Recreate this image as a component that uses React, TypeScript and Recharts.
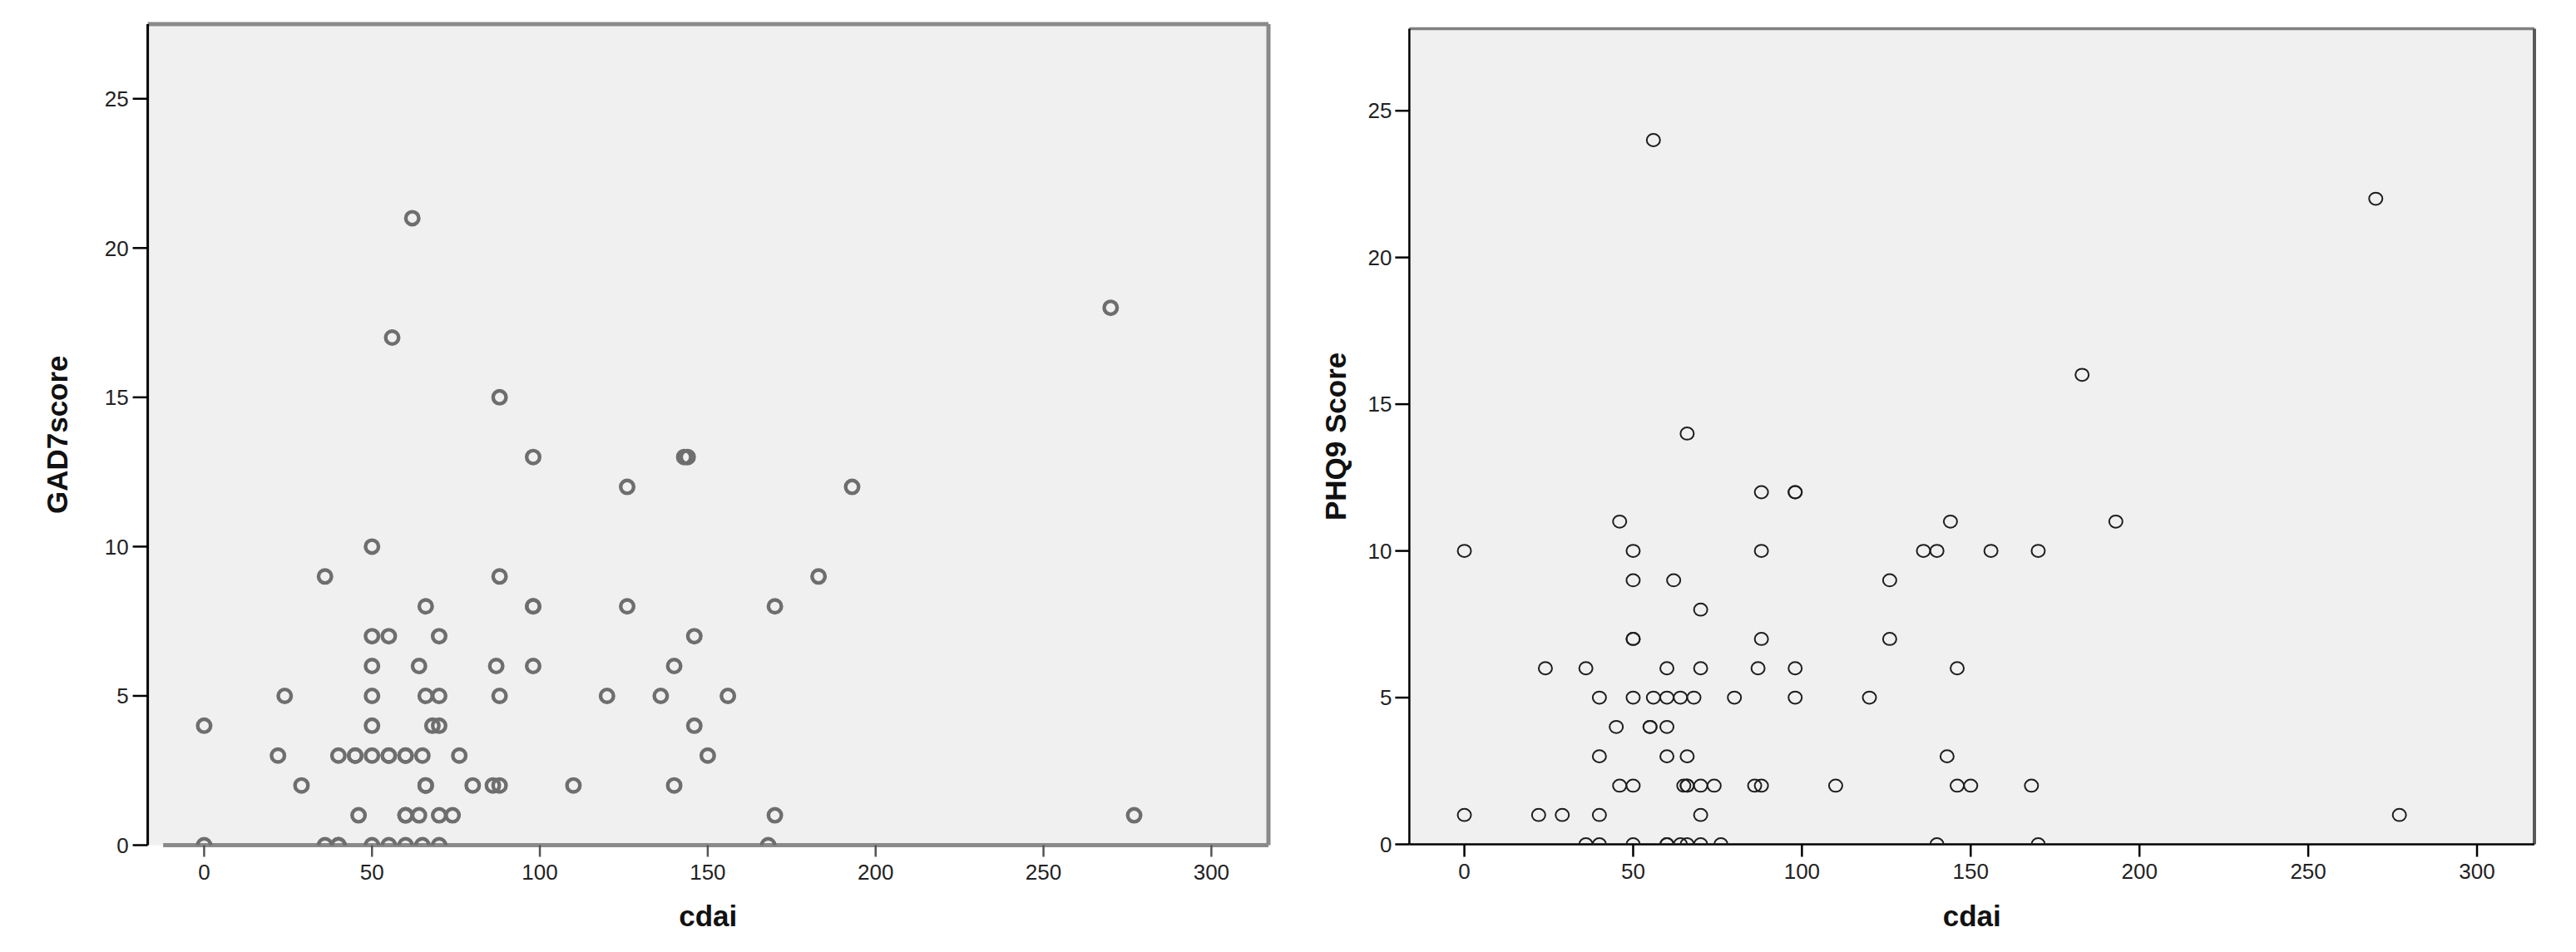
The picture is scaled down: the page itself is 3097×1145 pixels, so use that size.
import * as React from "react";
import {
  ScatterChart,
  Scatter,
  XAxis,
  YAxis,
  CartesianGrid,
  ReferenceLine,
} from "recharts";

// GAD7 panel (left)
const gadCdai = [
  0, 0, 22, 24, 29, 36, 36, 40, 40, 40, 45, 45, 46, 50, 50, 50, 50, 50, 50, 50,
  55, 55, 55, 55, 56, 60, 60, 60, 60, 60, 62, 64, 64, 65, 65, 66, 66, 66, 66, 68,
  70, 70, 70, 70, 70, 74, 76, 80, 88, 88, 87, 88, 86, 88, 98, 98, 98, 98, 110, 120,
  126, 126, 136, 140, 140, 143, 144, 146, 146, 150, 156, 168, 170, 170, 183, 193,
  270, 277,
];
const gadScore = [
  4, 0, 3, 5, 2, 9, 0, 3, 0, 0, 3, 3, 1, 10, 7, 6, 5, 4, 3, 0,
  7, 3, 3, 0, 17, 3, 3, 1, 1, 0, 21, 6, 1, 3, 0, 8, 5, 2, 2, 4,
  7, 5, 4, 1, 0, 1, 3, 2, 15, 9, 6, 5, 2, 2, 13, 8, 8, 6, 2, 5,
  12, 8, 5, 6, 2, 13, 13, 7, 4, 3, 5, 0, 8, 1, 9, 12,
  18, 1,
];

// PHQ9 panel (right)
const phqCdai = [
  0, 0, 22, 24, 29, 36, 36, 40, 40, 40, 40, 45, 46, 46, 50, 50, 50, 50, 50, 50,
  50, 55, 55, 56, 56, 60, 60, 60, 60, 60, 60, 62, 64, 64, 65, 66, 66, 66, 66, 66,
  68, 70, 70, 70, 70, 70, 74, 76, 80, 86, 87, 88, 88, 88, 88, 98, 98, 98, 98, 110,
  120, 126, 126, 136, 140, 140, 143, 144, 146, 146, 150, 156, 168, 170, 170, 183,
  193, 270, 277,
];
const phqScore = [
  10, 1, 1, 6, 1, 6, 0, 5, 3, 1, 0, 4, 11, 2, 10, 9, 7, 7, 5, 2,
  0, 4, 4, 24, 5, 6, 5, 4, 3, 0, 0, 9, 5, 0, 2, 14, 3, 2, 2, 0,
  5, 8, 6, 2, 1, 0, 2, 0, 5, 2, 6, 12, 10, 7, 2, 12, 12, 6, 5, 2,
  5, 9, 7, 10, 10, 0, 3, 11, 6, 2, 2, 10, 2, 10, 0, 16,
  11, 22, 1,
];

const xTicks = [0, 50, 100, 150, 200, 250, 300];
const yTicks = [0, 5, 10, 15, 20, 25];

const gadData = gadCdai.map((x, i) => ({ cdai: x, score: gadScore[i] }));
const phqData = phqCdai.map((x, i) => ({ cdai: x, score: phqScore[i] }));

const FONT = '"Liberation Sans", Arial, sans-serif';
const tickStyle = { fill: "#222", fontSize: 26, fontFamily: FONT };
const titleStyle = { fill: "#111", fontSize: 35, fontWeight: 700, fontFamily: FONT };

const GreyRing = (props: any) => (
  <circle cx={props.cx} cy={props.cy} r={7.8} fill="none" stroke="#6e6e6e" strokeWidth={4.4} />
);

const BlackRing = (props: any) => (
  <ellipse cx={props.cx} cy={props.cy} rx={8} ry={7.4} fill="none" stroke="#1e1e1e" strokeWidth={2} />
);

function GadChart() {
  return (
    <ScatterChart width={1560} height={1145} margin={{ top: 29, right: 35, bottom: 0, left: 0 }}>
      <CartesianGrid horizontal={false} vertical={false} fill="#f0f0f0" stroke="none" />
      <XAxis
        type="number"
        dataKey="cdai"
        domain={[-16.8, 317]}
        ticks={xTicks}
        allowDataOverflow
        height={128.5}
        tickSize={14}
        tickMargin={9}
        axisLine={false}
        tickLine={{ stroke: "#555", strokeWidth: 2.5 }}
        tick={tickStyle}
        label={{ value: "cdai", position: "insideBottom", offset: 31, style: titleStyle }}
      />
      <YAxis
        type="number"
        dataKey="score"
        domain={[0, 27.5]}
        ticks={yTicks}
        allowDataOverflow
        width={177.6}
        tickSize={18}
        tickMargin={5}
        axisLine={{ stroke: "#000", strokeWidth: 3 }}
        tickLine={{ stroke: "#000", strokeWidth: 2.5 }}
        tick={tickStyle}
        label={{
          value: "GAD7score",
          angle: -90,
          position: "insideLeft",
          offset: 69,
          style: { ...titleStyle, textAnchor: "middle" },
        }}
      />
      <ReferenceLine y={27.5} stroke="#8a8a8a" strokeWidth={5} />
      <ReferenceLine x={317} stroke="#8a8a8a" strokeWidth={5} />
      <ReferenceLine
        segment={[
          { x: -12.2, y: 0 },
          { x: 317, y: 0 },
        ]}
        stroke="#8a8a8a"
        strokeWidth={5}
      />
      <Scatter data={gadData} shape={GreyRing} isAnimationActive={false} />
    </ScatterChart>
  );
}

function PhqChart() {
  return (
    <ScatterChart width={1537} height={1145} margin={{ top: 34.4, right: 50, bottom: 0, left: 0 }}>
      <CartesianGrid horizontal={false} vertical={false} fill="#f0f0f0" stroke="none" />
      <XAxis
        type="number"
        dataKey="cdai"
        domain={[-16.3, 317]}
        ticks={xTicks}
        allowDataOverflow
        height={129.5}
        tickSize={15}
        tickMargin={8}
        axisLine={{ stroke: "#000", strokeWidth: 2.5 }}
        tickLine={{ stroke: "#000", strokeWidth: 2.5 }}
        tick={tickStyle}
        label={{ value: "cdai", position: "insideBottom", offset: 31, style: titleStyle }}
      />
      <YAxis
        type="number"
        dataKey="score"
        domain={[0, 27.8]}
        ticks={yTicks}
        allowDataOverflow
        width={134.4}
        tickSize={17}
        tickMargin={4}
        axisLine={{ stroke: "#000", strokeWidth: 2.5 }}
        tickLine={{ stroke: "#000", strokeWidth: 2.5 }}
        tick={tickStyle}
        label={{
          value: "PHQ9 Score",
          angle: -90,
          position: "insideLeft",
          offset: 45.6,
          style: { ...titleStyle, textAnchor: "middle" },
        }}
      />
      <ReferenceLine y={27.8} stroke="#808080" strokeWidth={3.5} />
      <ReferenceLine x={317} stroke="#5a5a5a" strokeWidth={4} />
      <Scatter data={phqData} shape={BlackRing} isAnimationActive={false} />
    </ScatterChart>
  );
}

export default function App() {
  return (
    <div
      style={{
        position: "absolute",
        left: 0,
        top: 0,
        width: 3097,
        height: 1145,
        background: "#fff",
        fontFamily: FONT,
      }}
    >
      <div style={{ position: "absolute", left: 0, top: 0 }}>
        <GadChart />
      </div>
      <div style={{ position: "absolute", left: 1560, top: 0 }}>
        <PhqChart />
      </div>
    </div>
  );
}
